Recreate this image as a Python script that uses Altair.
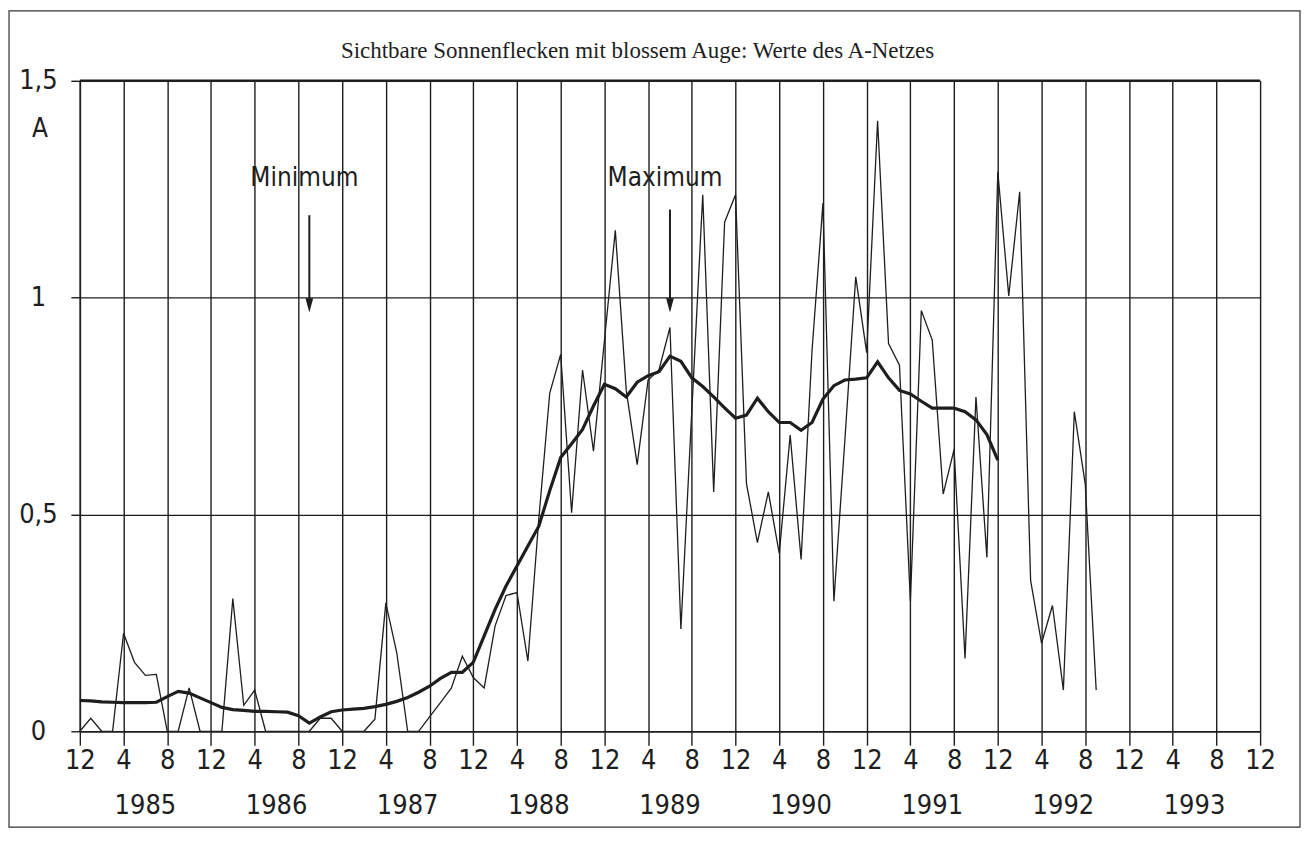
import altair as alt
import pandas as pd

# ---------------- data ----------------
title_text = "Sichtbare Sonnenflecken mit blossem Auge: Werte des A-Netzes"
unit_label = "A"

# monthly values, starting December 1984 (month index 0)
thin_values = [
    0.0, 0.03, 0.0, 0.0, 0.226, 0.159, 0.129, 0.131, 0.0, 0.0, 0.10, 0.0,      # 12/84 - 11/85
    0.0, 0.0, 0.306, 0.06, 0.095, 0.0, 0.0, 0.0, 0.0, 0.0, 0.03, 0.03,         # 12/85 - 11/86
    0.0, 0.0, 0.0, 0.028, 0.296, 0.181, 0.0, 0.0, 0.033, 0.066, 0.10, 0.173,   # 12/86 - 11/87
    0.124, 0.10, 0.243, 0.313, 0.32, 0.162, 0.49, 0.78, 0.869, 0.504, 0.833, 0.646,  # 12/87 - 11/88
    0.90, 1.155, 0.786, 0.615, 0.81, 0.834, 0.931, 0.236, 0.74, 1.237, 0.552, 1.174, # 12/88 - 11/89
    1.237, 0.571, 0.435, 0.552, 0.41, 0.683, 0.396, 0.878, 1.218, 0.30, 0.67, 1.048, # 12/89 - 11/90
    0.873, 1.408, 0.894, 0.844, 0.30, 0.97, 0.902, 0.547, 0.65, 0.168, 0.771, 0.401, # 12/90 - 11/91
    1.29, 1.004, 1.244, 0.348, 0.203, 0.29, 0.095, 0.737, 0.57, 0.095,              # 12/91 - 9/92
]

smooth_values = [
    0.071, 0.070, 0.068, 0.067, 0.066, 0.066, 0.066, 0.067, 0.080, 0.092, 0.088, 0.077,
    0.066, 0.055, 0.050, 0.048, 0.046, 0.046, 0.045, 0.044, 0.036, 0.019, 0.033, 0.045,
    0.049, 0.051, 0.053, 0.057, 0.062, 0.069, 0.078, 0.090, 0.104, 0.122, 0.136, 0.136,
    0.159, 0.220, 0.281, 0.335, 0.381, 0.427, 0.473, 0.555, 0.631, 0.663, 0.696, 0.750,
    0.800, 0.790, 0.771, 0.805, 0.820, 0.829, 0.865, 0.853, 0.815, 0.795, 0.771, 0.746,
    0.722, 0.729, 0.768, 0.737, 0.712, 0.712, 0.694, 0.712, 0.766, 0.797, 0.810, 0.812,
    0.815, 0.852, 0.815, 0.786, 0.778, 0.761, 0.745, 0.745, 0.745, 0.737, 0.718, 0.684,
    0.625,
]

x_tick_values = list(range(0, 109, 4))
x_tick_labels = ["12", "4", "8"] * 9 + ["12"]
y_tick_values = [0, 0.5, 1, 1.5]
y_tick_labels = ["0", "0,5", "1", "1,5"]
years = [1985, 1986, 1987, 1988, 1989, 1990, 1991, 1992, 1993]

ann_labels = ["Minimum", "Maximum"]
ann_months = [21, 54]
ann_text_level = [1.276, 1.276]
ann_arrow_top = [1.19, 1.203]
ann_arrow_tip = [0.982, 0.982]

# ---------------- tables ----------------
thin_df = pd.DataFrame({"month": list(range(len(thin_values))), "value": thin_values})
smooth_df = pd.DataFrame({"month": list(range(len(smooth_values))), "value": smooth_values})
year_df = pd.DataFrame({"year": [str(y) for y in years],
                        "month": [(y - years[0]) * 12 + 6 for y in years]})
ann_df = pd.DataFrame({"label": ann_labels, "month": ann_months, "level": ann_text_level,
                       "top": ann_arrow_top, "tip": ann_arrow_tip})
top_df = pd.DataFrame({"value": [y_tick_values[-1]]})
unit_df = pd.DataFrame({"label": [unit_label]})
title_df = pd.DataFrame({"label": [title_text]})
frame_df = pd.DataFrame({"k": [0]})

W, H = 1183, 652
INK = "#1e1e1e"
LFONT = "Liberation Sans Narrow, DejaVu Sans Condensed, DejaVu Sans"

x_label_expr = "{}[indexof({}, datum.value)]".format(
    "[" + ",".join("'%s'" % s for s in x_tick_labels) + "]",
    "[" + ",".join(str(v) for v in x_tick_values) + "]")
y_label_expr = "{}[indexof({}, datum.value)]".format(
    "[" + ",".join("'%s'" % s for s in y_tick_labels) + "]",
    "[" + ",".join(str(v) for v in y_tick_values) + "]")

xscale = alt.Scale(domain=[0, 108], nice=False, zero=False)
yscale = alt.Scale(domain=[0, 1.5], nice=False)

xaxis = alt.Axis(values=x_tick_values, labelExpr=x_label_expr, title=None,
                 grid=True, gridColor=INK, gridWidth=1.4, gridOpacity=1,
                 tickSize=14, tickColor=INK, tickWidth=1.4,
                 domainColor=INK, domainWidth=1.6,
                 labelFont=LFONT, labelFontSize=27, labelColor=INK,
                 labelPadding=2, labelFlush=False, labelOverlap=False)
yaxis = alt.Axis(values=y_tick_values, labelExpr=y_label_expr, title=None,
                 grid=True, gridColor=INK, gridWidth=1.3, gridOpacity=1,
                 tickSize=9, tickColor=INK, tickWidth=1.4,
                 domainColor=INK, domainWidth=1.6,
                 labelFont=LFONT, labelFontSize=27, labelColor=INK,
                 labelAlign="center", labelBaseline="middle", labelPadding=33,
                 labelFlush=False, labelOverlap=False)

thin = alt.Chart(thin_df).mark_line(color=INK, strokeWidth=1.3).encode(
    x=alt.X("month:Q", scale=xscale, axis=xaxis),
    y=alt.Y("value:Q", scale=yscale, axis=yaxis),
)
smooth = alt.Chart(smooth_df).mark_line(color=INK, strokeWidth=3.2).encode(
    x=alt.X("month:Q", scale=xscale),
    y=alt.Y("value:Q", scale=yscale),
)
top_rule = alt.Chart(top_df).mark_rule(color=INK, strokeWidth=2.6).encode(
    y=alt.Y("value:Q", scale=yscale),
)
ann_text = alt.Chart(ann_df).mark_text(font=LFONT, fontSize=26, color=INK, dx=-5,
                                       baseline="middle").encode(
    x=alt.X("month:Q", scale=xscale),
    y=alt.Y("level:Q", scale=yscale),
    text="label:N",
)
ann_rule = alt.Chart(ann_df).mark_rule(color=INK, strokeWidth=2).encode(
    x=alt.X("month:Q", scale=xscale),
    y=alt.Y("top:Q", scale=yscale),
    y2="tip:Q",
)
ann_head = alt.Chart(ann_df).mark_point(shape="M-0.55,-1L0.55,-1L0,1Z", filled=True,
                                        color=INK, size=200, opacity=1).encode(
    x=alt.X("month:Q", scale=xscale),
    y=alt.Y("tip:Q", scale=yscale),
)
year_text = alt.Chart(year_df).mark_text(font=LFONT, fontSize=27, color=INK,
                                         baseline="middle").encode(
    x=alt.X("month:Q", scale=xscale),
    y=alt.value(H + 75),
    text="year:N",
)
unit_text = alt.Chart(unit_df).mark_text(font=LFONT, fontSize=26, color=INK,
                                         baseline="middle").encode(
    x=alt.value(-40), y=alt.value(48), text="label:N",
)
title_mark = alt.Chart(title_df).mark_text(font="Liberation Serif", fontSize=23, color=INK,
                                           baseline="middle").encode(
    x=alt.value(559), y=alt.value(-30), text="label:N",
)
frame = alt.Chart(frame_df).mark_rect(fill=None, stroke="#333", strokeWidth=1.2).encode(
    x=alt.value(-71), x2=alt.value(1223), y=alt.value(-70), y2=alt.value(748),
)

chart = alt.layer(
    frame, thin, smooth, top_rule, ann_rule, ann_head, ann_text, year_text, unit_text, title_mark
).properties(
    width=W, height=H,
    autosize=alt.AutoSizeParams(type="none"),
    padding={"left": 72, "top": 72, "right": 42, "bottom": 98},
).configure_view(
    stroke=INK, strokeWidth=1.5
).configure(background="white")

chart.save("out.html", embed_options={"renderer": "svg", "actions": False})
